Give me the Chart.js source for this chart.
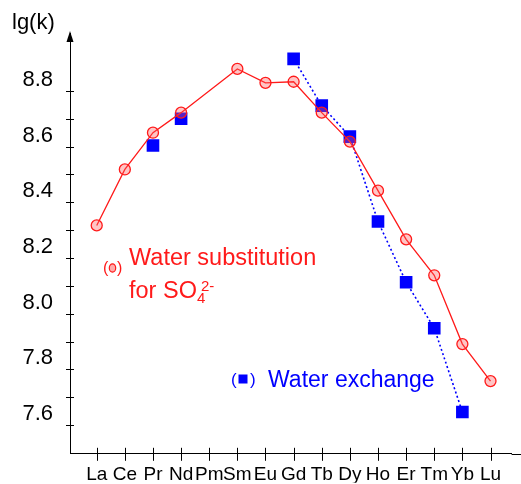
<!DOCTYPE html>
<html>
<head>
<meta charset="utf-8">
<script src="https://cdn.jsdelivr.net/npm/chart.js@4.4.0/dist/chart.umd.min.js"></script>
<style>
  html, body { margin: 0; padding: 0; background: #fff; }
  #wrap { width: 521px; height: 484px; }
</style>
</head>
<body>
<div id="wrap"><canvas id="chart"></canvas></div>
<script>
// lanthanide series along x
var elements = ["La", "Ce", "Pr", "Nd", "Pm", "Sm", "Eu", "Gd", "Tb", "Dy", "Ho", "Er", "Tm", "Yb", "Lu"];
// lg(k), null = no point
var substitutionValues = [8.277, 8.478, 8.61, 8.682, null, 8.839, 8.789, 8.793, 8.682, 8.578, 8.402, 8.227, 8.098, 7.851, 7.718];
var exchangeValues = [null, null, 8.564, 8.66, null, null, null, 8.875, 8.707, 8.596, 8.291, 8.073, 7.908, 7.607, null];
var yTickLabels = [7.6, 7.8, 8.0, 8.2, 8.4, 8.6, 8.8];
// the small tick marks on the y axis sit a bit off the labels in the original
var yTickMarks = [7.56, 7.66, 7.76, 7.86, 7.96, 8.06, 8.16, 8.26, 8.36, 8.46, 8.56, 8.66, 8.76];

var RED = "#ff1a1a";
var BLUE = "#0000ff";
var FONT = "'Liberation Sans', Arial, sans-serif";
var X_MIN = -0.95, X_MAX = 14.75;

function toPoints(vals) {
    return vals.map(function (v, i) { return { x: i, y: v }; });
}

// axis tick marks, arrow, title and the two labels
var decor = {
    id: "decor",
    afterDraw: function (chart) {
        var ctx = chart.ctx;
        var xs = chart.scales.x, ys = chart.scales.y;
        var left = chart.chartArea.left, bottom = chart.chartArea.bottom, top = chart.chartArea.top;
        ctx.save();
        ctx.strokeStyle = "#000";
        ctx.lineWidth = 1;
        ctx.beginPath();
        yTickMarks.forEach(function (v) {
            var y = Math.round(ys.getPixelForValue(v)) + 0.5;
            ctx.moveTo(left - 4, y);
            ctx.lineTo(left + 4, y);
        });
        elements.forEach(function (e, i) {
            var x = Math.round(xs.getPixelForValue(i)) + 0.5;
            ctx.moveTo(x, bottom - 6);
            ctx.lineTo(x, bottom + 7);
        });
        // x axis runs on to the edge of the picture
        ctx.moveTo(chart.chartArea.right, Math.round(bottom) + 0.5);
        ctx.lineTo(chart.width, Math.round(bottom) + 0.5);
        ctx.stroke();

        // arrow on top of y axis
        ctx.fillStyle = "#000";
        ctx.beginPath();
        ctx.moveTo(left, top - 2);
        ctx.lineTo(left - 3.5, top + 9);
        ctx.lineTo(left + 3.5, top + 9);
        ctx.closePath();
        ctx.fill();

        ctx.textBaseline = "alphabetic";
        ctx.textAlign = "left";
        ctx.font = "22px " + FONT;
        ctx.fillText("lg(k)", 12, 29);

        // red label
        ctx.fillStyle = RED;
        ctx.strokeStyle = RED;
        ctx.font = "16px " + FONT;
        ctx.fillText("(", 103, 273);
        ctx.fillText(")", 117, 273);
        ctx.beginPath();
        ctx.ellipse(112.5, 268, 3.2, 4.2, 0, 0, Math.PI * 2);
        ctx.fillStyle = "rgba(255,90,90,0.5)";
        ctx.fill();
        ctx.lineWidth = 1.2;
        ctx.stroke();
        ctx.fillStyle = RED;
        ctx.font = "23.5px " + FONT;
        ctx.fillText("Water substitution", 129, 265);
        ctx.fillText("for SO", 129, 298);
        var subX = 129 + ctx.measureText("for SO").width;
        ctx.font = "15px " + FONT;
        ctx.fillText("4", subX, 303);
        ctx.fillText("2-", subX + 4, 291);

        // blue label
        ctx.fillStyle = BLUE;
        ctx.font = "17px " + FONT;
        ctx.fillText("(", 231, 385);
        ctx.fillText(")", 250, 385);
        ctx.fillRect(238.5, 374.5, 9, 9);
        ctx.font = "23px " + FONT;
        ctx.fillText("Water exchange", 268, 387);
        ctx.restore();
    }
};

new Chart(document.getElementById("chart"), {
    type: "line",
    data: {
        datasets: [{
            label: "Water substitution for SO4 2-",
            data: toPoints(substitutionValues),
            borderColor: RED,
            borderWidth: 1.3,
            backgroundColor: "rgba(255,90,90,0.35)",
            pointBorderColor: RED,
            pointBorderWidth: 1.3,
            pointRadius: 5.5,
            pointStyle: "circle",
            spanGaps: true,
            tension: 0
        }, {
            label: "Water exchange",
            data: toPoints(exchangeValues),
            borderColor: BLUE,
            borderWidth: 1.6,
            borderDash: [2, 2.5],
            backgroundColor: BLUE,
            pointBorderColor: BLUE,
            pointRadius: 7.8,
            pointStyle: "rect",
            spanGaps: false,
            tension: 0,
            segment: {
                // Pr and Nd are single points, the dotted line starts at Gd
                borderColor: function (c) { return c.p0DataIndex < 7 ? "rgba(0,0,0,0)" : BLUE; }
            }
        }]
    },
    options: {
        responsive: true,
        maintainAspectRatio: false,
        animation: false,
        layout: { padding: { top: 33, left: 0, right: 0, bottom: 0 } },
        plugins: {
            legend: { display: false },
            tooltip: { enabled: false }
        },
        scales: {
            x: {
                type: "linear",
                min: X_MIN,
                max: X_MAX,
                afterBuildTicks: function (s) {
                    s.ticks = elements.map(function (e, i) { return { value: i }; });
                },
                afterFit: function (s) {
                    s.height = 29;
                },
                grid: { display: false, drawTicks: false },
                border: { display: true, color: "#000", width: 1 },
                ticks: {
                    autoSkip: false,
                    maxRotation: 0,
                    padding: 10,
                    color: "#000",
                    font: { family: FONT, size: 19 },
                    callback: function (v) { return elements[v]; }
                }
            },
            y: {
                min: 7.457,
                max: 8.968,
                afterBuildTicks: function (s) {
                    s.ticks = yTickLabels.map(function (v) { return { value: v }; });
                },
                afterFit: function (s) {
                    s.width = 70;
                },
                grid: { display: false, drawTicks: false },
                border: { display: true, color: "#000", width: 1 },
                ticks: {
                    padding: 17,
                    color: "#000",
                    font: { family: FONT, size: 22 },
                    callback: function (v) { return v.toFixed(1); }
                }
            }
        }
    },
    plugins: [decor]
});
</script>
</body>
</html>
